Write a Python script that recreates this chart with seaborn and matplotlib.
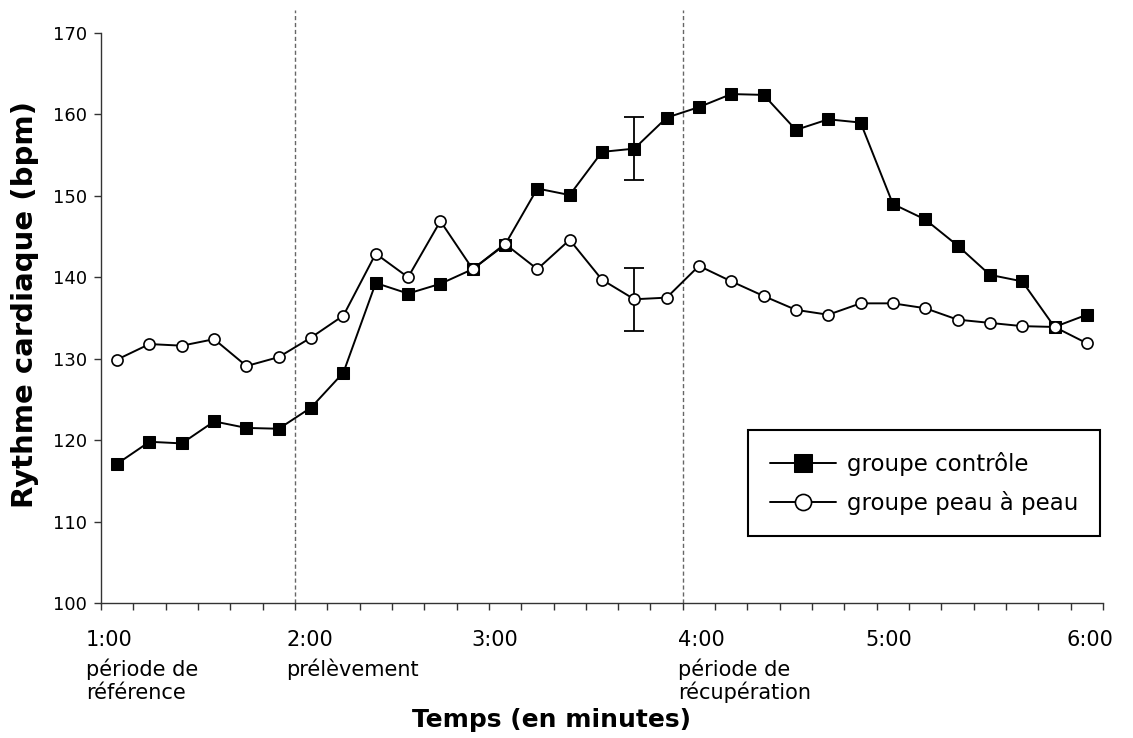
import matplotlib
matplotlib.use("Agg")
import matplotlib.pyplot as plt
import seaborn as sns
import pandas as pd
import numpy as np

# ---------------- data ----------------
point_index = list(range(31))
controle = [117.1, 119.8, 119.6, 122.3, 121.5, 121.4, 124.0, 128.3, 139.3, 138.0,
            139.2, 141.0, 144.0, 150.9, 150.1, 155.4, 155.8, 159.6, 160.9, 162.5,
            162.4, 158.1, 159.4, 159.0, 149.0, 147.1, 143.9, 140.3, 139.5, 133.9,
            135.4]
peau_a_peau = [129.9, 131.8, 131.6, 132.4, 129.1, 130.2, 132.6, 135.3, 142.9, 140.0,
               146.9, 141.0, 144.1, 141.0, 144.6, 139.7, 137.3, 137.5, 141.4, 139.5,
               137.7, 136.0, 135.4, 136.8, 136.8, 136.2, 134.8, 134.4, 134.0, 133.9,
               131.9]
err_index = 16
err_controle = 3.9
err_peau = 3.9
series_names = ["groupe contrôle", "groupe peau à peau"]
time_labels = ["1:00", "2:00", "3:00", "4:00", "5:00", "6:00"]
phase_labels = [["période de", "référence"], ["prélèvement"], [],
                ["période de", "récupération"], [], []]
phase_boundaries = [5.5, 17.5]
y_ticks = [100, 110, 120, 130, 140, 150, 160, 170]

# ---------------- layout ----------------
W, H = 1133, 738
label_left_px = [86, 286, 471, 678, 865, 1066]

sns.set_style("white")
plt.rcParams['font.family'] = ['DejaVu Sans']
plt.rcParams['text.color'] = 'black'
plt.rcParams['axes.labelcolor'] = 'black'
plt.rcParams['xtick.color'] = 'black'
plt.rcParams['ytick.color'] = 'black'

fig = plt.figure(figsize=(W / 100, H / 100), dpi=100)
ax = fig.add_axes([101 / W, 1 - 603 / H, (1103 - 101) / W, (603 - 33) / H])

df = pd.DataFrame({
    "idx": point_index * 2,
    "bpm": controle + peau_a_peau,
    "groupe": [series_names[0]] * len(controle) + [series_names[1]] * len(peau_a_peau),
})

sns.lineplot(data=df[df.groupe == series_names[0]], x="idx", y="bpm", ax=ax,
             color="black", lw=1.4, marker="s", markersize=8.5,
             markerfacecolor="black", markeredgecolor="black",
             label=series_names[0], zorder=3)
sns.lineplot(data=df[df.groupe == series_names[1]], x="idx", y="bpm", ax=ax,
             color="black", lw=1.4, marker="o", markersize=8,
             markerfacecolor="white", markeredgecolor="black", markeredgewidth=1.2,
             label=series_names[1], zorder=4)

ax.errorbar([err_index], [controle[err_index]], yerr=[err_controle], fmt="none",
            ecolor="black", elinewidth=1.3, capsize=7, capthick=1.3, zorder=2)
ax.errorbar([err_index], [peau_a_peau[err_index]], yerr=[err_peau], fmt="none",
            ecolor="black", elinewidth=1.3, capsize=7, capthick=1.3, zorder=2)

# dotted phase separators, extending slightly above the plot
for b in phase_boundaries:
    ax.axvline(b, ymin=0, ymax=(603 - 10) / (603 - 33), color="#666666",
               lw=1.0, ls=(0, (3, 2)), clip_on=False, zorder=1)

ax.set_xlim(-0.5, 30.5)
ax.set_ylim(100, 170)
ax.set_xticks(np.arange(-0.5, 31, 1.0))
ax.set_xticklabels([])
ax.set_yticks(y_ticks)
ax.set_yticklabels([str(v) for v in y_ticks], fontsize=13)
ax.tick_params(axis="both", direction="out", length=5, width=1, color="#333333",
               labelcolor="black", pad=5, bottom=True, left=True)
for s in ["top", "right"]:
    ax.spines[s].set_visible(False)
for s in ["left", "bottom"]:
    ax.spines[s].set_color("#333333")
    ax.spines[s].set_linewidth(1.0)
ax.set_xlabel("")
ax.set_ylabel("")

# x labels with phase names
for tl, sub, xp in zip(time_labels, phase_labels, label_left_px):
    fig.text(xp / W, 1 - 646 / H, tl, fontsize=15, ha="left", va="baseline")
    for k, line in enumerate(sub):
        fig.text(xp / W, 1 - (676 + 23 * k) / H, line, fontsize=15,
                 ha="left", va="baseline")

fig.text(551 / W, 1 - 720 / H, "Temps (en minutes)", fontsize=18,
         fontweight="bold", ha="center", va="center")
fig.text(25 / W, 1 - 304 / H, "Rythme cardiaque (bpm)", fontsize=21,
         fontweight="bold", ha="center", va="center", rotation=90)

leg = ax.legend(loc="upper left", bbox_to_anchor=(748 / W, 1 - 430 / H),
                bbox_transform=fig.transFigure, fontsize=16.5, frameon=True,
                fancybox=False, edgecolor="black", framealpha=1,
                handlelength=2.9, handletextpad=0.45, borderpad=0.95,
                labelspacing=0.65, borderaxespad=0, markerscale=1.45)
leg.get_frame().set_linewidth(1.5)

fig.savefig("out.png", dpi=100, facecolor="white")
